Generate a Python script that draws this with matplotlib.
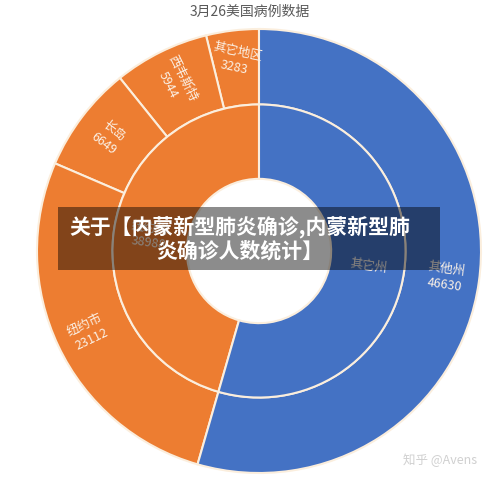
import numpy as np
import matplotlib
matplotlib.use("Agg")
import matplotlib.pyplot as plt
from matplotlib.patches import Rectangle

plt.rcParams['font.family'] = ['Noto Sans CJK SC', 'DejaVu Sans']

# 外圈数据
outer_names = ['其它地区', '西韦斯特', '长岛', '纽约市', '其他州']
outer_values = [3283, 5944, 6649, 23112, 46630]
# 内圈数据
inner_names = ['纽约州', '其它州']
inner_values = [38988, 46630]

title = '3月26美国病例数据'
banner = '关于【内蒙新型肺炎确诊,内蒙新型肺\n炎确诊人数统计】'
watermark = '知乎 @Avens'

ORANGE = '#ED7D31'
BLUE = '#4472C4'
EDGE = '#fbeedd'
TXT = '#fbf1e6'

W, H = 500, 479
cx, cy, R = 259, 251, 222   # 像素坐标

fig = plt.figure(figsize=(W / 100, H / 100), dpi=100)
ax = fig.add_axes([0, 0, 1, 1])

outer_colors = [ORANGE] * 4 + [BLUE]
inner_colors = [ORANGE, BLUE]

wo, _ = ax.pie(outer_values, radius=1.0, colors=outer_colors, startangle=90,
               counterclock=True,
               wedgeprops=dict(width=0.34, edgecolor=EDGE, linewidth=1.5))
wi, _ = ax.pie(inner_values, radius=0.66, colors=inner_colors, startangle=90,
               counterclock=True,
               wedgeprops=dict(width=0.335, edgecolor=EDGE, linewidth=1.5))

# pie 会重设坐标范围，之后再设
ax.set_xlim(-cx / R, (W - cx) / R)
ax.set_ylim(-(H - cy) / R, cy / R)
ax.set_aspect('equal')
ax.axis('off')


def label_rot(mid):
	r = mid - 180
	while r <= -90:
		r += 180
	while r > 90:
		r -= 180
	return r


# 外圈标签
for i, w in enumerate(wo):
	mid = (w.theta1 + w.theta2) / 2
	rad = np.deg2rad(mid)
	r = 0.87 if i == 0 else 0.85
	rot = -12 if i == 0 else label_rot(mid)
	ax.text(r * np.cos(rad), r * np.sin(rad),
		'%s\n%d' % (outer_names[i], outer_values[i]),
		ha='center', va='center', rotation=rot, rotation_mode='anchor',
		fontsize=9, color=TXT, linespacing=1.3, multialignment='center')

# 内圈标签
for i, w in enumerate(wi):
	mid = (w.theta1 + w.theta2) / 2
	rad = np.deg2rad(mid)
	if i == 0:
		s = '%s\n%d' % (inner_names[i], inner_values[i])
	else:
		s = inner_names[i]
	ax.text(0.5 * np.cos(rad), 0.5 * np.sin(rad), s,
		ha='center', va='center', rotation=label_rot(mid), rotation_mode='anchor',
		fontsize=9, color=TXT, linespacing=1.3, multialignment='center')

# 标题
fig.text(250 / W, 1 - 12 / H, title, ha='center', va='center',
	fontsize=10, color='#595959')

# 遮罩横幅
fig.patches.append(Rectangle((58 / W, 1 - 270 / H), (440 - 58) / W, (270 - 207) / H,
	transform=fig.transFigure, facecolor='black', alpha=0.45, edgecolor='none'))
fig.text(240 / W, 1 - 238 / H, banner, ha='center', va='center',
	fontsize=15, color='white', fontweight='bold', linespacing=1.15)

# 水印
fig.text(440 / W, 1 - 460 / H, watermark, ha='center', va='center',
	fontsize=9, color='#d0d0d0')

fig.savefig('out.png', dpi=100)
